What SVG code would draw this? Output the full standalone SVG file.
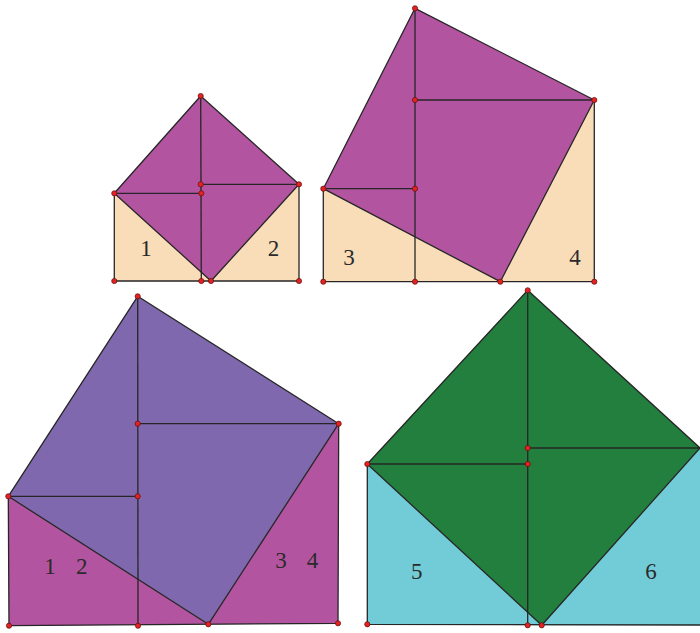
<svg xmlns="http://www.w3.org/2000/svg" width="700" height="633" viewBox="0 0 700 633">
<style>
.e{stroke:#262626;stroke-width:1.3;stroke-linejoin:round;fill:none}
.s1{fill:#b354a0}
.t1{fill:#f9dcb8}
.s3{fill:#7f68ad}
.t3{fill:#b354a0}
.s4{fill:#237f3e}
.t4{fill:#72ccd8}
.p{fill:#e52222;stroke:#5a1010;stroke-width:0.7}
.lbl{font-family:"Liberation Serif","DejaVu Serif",serif;font-size:23px;fill:#2a2a2a;text-anchor:middle}
</style>
<defs>
<circle id="d" r="2.6" class="p"/>
</defs>

<g id="fig1">
<polygon class="t1" points="114.3,193.3 114.3,281 211,281"/>
<polygon class="t1" points="211,281 299,281 299,184.3"/>
<polygon class="s1" points="200.7,96 114.3,193.3 211,281 299,184.3"/>
<text class="lbl" x="146" y="256">1</text>
<text class="lbl" x="273.5" y="256">2</text>
</g>

<g id="fig2">
<polygon class="t1" points="323.3,188.7 323.3,281.7 500.3,281.7"/>
<polygon class="t1" points="500.3,281.7 594.3,281.7 594.3,100"/>
<polygon class="s1" points="415,8.3 323.3,188.7 500.3,281.7 594.3,100"/>
<text class="lbl" x="349" y="265">3</text>
<text class="lbl" x="575" y="265">4</text>
</g>

<g id="fig3">
<polygon class="t3" points="8.3,496.3 9,625.7 208.3,624.3"/>
<polygon class="t3" points="208.3,624.3 338,623.3 338.7,423.7"/>
<polygon class="s3" points="137.7,296.3 8.3,496.3 208.3,624.3 338.7,423.7"/>
<text class="lbl" x="50" y="574">1</text>
<text class="lbl" x="81.7" y="574">2</text>
<text class="lbl" x="281" y="568">3</text>
<text class="lbl" x="312.5" y="568">4</text>
</g>

<g id="fig4">
<polygon class="t4" points="367.3,464 367.3,624.3 541.7,625.3"/>
<polygon class="t4" points="541.7,625.3 700,625 700,448"/>
<polygon class="s4" points="527.7,290.3 367.3,464 541.7,625.3 700,448"/>
<text class="lbl" x="416.7" y="579">5</text>
<text class="lbl" x="651" y="579">6</text>
</g>

<g id="connectors" class="e">
<!-- fig1 -->
<polygon points="200.7,96 114.3,193.3 211,281 299,184.3"/>
<polyline points="114.3,193.3 114.3,281 299,281 299,184.3"/>
<line x1="200.7" y1="96" x2="201.3" y2="281"/>
<line x1="114.3" y1="193.3" x2="201.3" y2="193.3"/>
<line x1="200.7" y1="184.3" x2="299" y2="184.3"/>
<!-- fig2 -->
<polygon points="415,8.3 323.3,188.7 500.3,281.7 594.3,100"/>
<polyline points="323.3,188.7 323.3,281.7 594.3,281.7 594.3,100"/>
<line x1="415" y1="8.3" x2="415" y2="281.7"/>
<line x1="323.3" y1="188.7" x2="415" y2="188.7"/>
<line x1="415" y1="100" x2="594.3" y2="100"/>
<!-- fig3 -->
<polygon points="137.7,296.3 8.3,496.3 208.3,624.3 338.7,423.7"/>
<polyline points="8.3,496.3 9,625.7 338,623.3 338.7,423.7"/>
<line x1="137.7" y1="296.3" x2="138" y2="625.5"/>
<line x1="8.3" y1="496.3" x2="137.7" y2="496.3"/>
<line x1="137.7" y1="423.7" x2="338.7" y2="423.7"/>
<!-- fig4 -->
<polygon points="527.7,290.3 367.3,464 541.7,625.3 700,448"/>
<polyline points="367.3,464 367.3,624.3 700,625"/>
<line x1="527.7" y1="290.3" x2="527.7" y2="625.3"/>
<line x1="367.3" y1="464" x2="527.7" y2="464"/>
<line x1="527.7" y1="448" x2="700" y2="448"/>
</g>

<g id="points">
<use href="#d" x="200.7" y="96"/>
<use href="#d" x="114.3" y="193.3"/>
<use href="#d" x="201.3" y="193.3"/>
<use href="#d" x="200.7" y="184.3"/>
<use href="#d" x="299" y="184.3"/>
<use href="#d" x="114.3" y="281"/>
<use href="#d" x="201.3" y="281"/>
<use href="#d" x="211" y="281"/>
<use href="#d" x="299" y="281"/>

<use href="#d" x="415" y="8.3"/>
<use href="#d" x="415" y="100"/>
<use href="#d" x="594.3" y="100"/>
<use href="#d" x="323.3" y="188.7"/>
<use href="#d" x="415" y="188.7"/>
<use href="#d" x="323.3" y="281.7"/>
<use href="#d" x="415" y="281.7"/>
<use href="#d" x="500.3" y="281.7"/>
<use href="#d" x="594.3" y="281.7"/>

<use href="#d" x="137.7" y="296.3"/>
<use href="#d" x="137.7" y="423.7"/>
<use href="#d" x="338.7" y="423.7"/>
<use href="#d" x="8.3" y="496.3"/>
<use href="#d" x="137.7" y="496.3"/>
<use href="#d" x="9" y="625.7"/>
<use href="#d" x="138" y="625.7"/>
<use href="#d" x="208.3" y="624.3"/>
<use href="#d" x="338" y="623.3"/>

<use href="#d" x="527.7" y="290.3"/>
<use href="#d" x="527.7" y="448"/>
<use href="#d" x="367.3" y="464"/>
<use href="#d" x="527.7" y="464"/>
<use href="#d" x="367.3" y="624.3"/>
<use href="#d" x="527.7" y="625.3"/>
<use href="#d" x="541.7" y="625.3"/>
</g>
</svg>
